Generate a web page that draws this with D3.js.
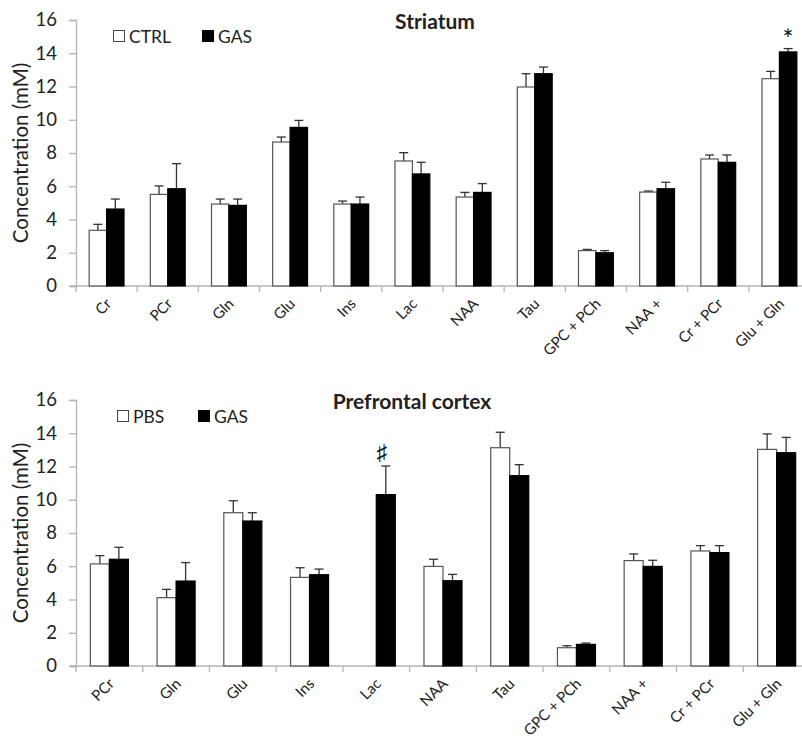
<!DOCTYPE html>
<html>
<head>
<meta charset="utf-8">
<script src="https://cdn.jsdelivr.net/npm/d3@7"></script>
<style>
  html, body { margin: 0; padding: 0; background: #fff; }
  svg { display: block; overflow: hidden; }
  text { font-family: Lato, "Open Sans", sans-serif; fill: #222; }
</style>
</head>
<body>
<svg id="chart" width="802" height="741"></svg>
<script>
// Striatum panel
const striatumCategories = ["Cr", "PCr", "Gln", "Glu", "Ins", "Lac", "NAA", "Tau", "GPC + PCh", "NAA +", "Cr + PCr", "Glu + Gln"];
const striatumCtrl    = [3.35, 5.51, 4.93, 8.66, 4.93, 7.52, 5.35, 11.97, 2.13, 5.65, 7.64, 12.47];
const striatumCtrlErr = [0.36, 0.51, 0.30, 0.30, 0.18, 0.50, 0.28, 0.80, 0.07, 0.06, 0.24, 0.44];
const striatumGas     = [4.63, 5.85, 4.85, 9.54, 4.93, 6.74, 5.63, 12.77, 2.00, 5.85, 7.44, 14.08];
const striatumGasErr  = [0.60, 1.51, 0.38, 0.42, 0.42, 0.70, 0.53, 0.40, 0.13, 0.39, 0.44, 0.20];

// Prefrontal cortex panel (no PBS value for Lac)
const cortexCategories = ["PCr", "Gln", "Glu", "Ins", "Lac", "NAA", "Tau", "GPC + PCh", "NAA +", "Cr + PCr", "Glu + Gln"];
const cortexPbs     = [6.14, 4.11, 9.22, 5.33, null, 5.99, 13.13, 1.10, 6.34, 6.92, 13.03];
const cortexPbsErr  = [0.50, 0.50, 0.72, 0.58, null, 0.43, 0.93, 0.12, 0.40, 0.32, 0.93];
const cortexGas     = [6.42, 5.11, 8.72, 5.49, 10.31, 5.13, 11.45, 1.30, 5.99, 6.82, 12.83];
const cortexGasErr  = [0.72, 1.11, 0.50, 0.34, 1.72, 0.38, 0.66, 0.08, 0.37, 0.42, 0.92];

const yTicks = [0, 2, 4, 6, 8, 10, 12, 14, 16];

const svg = d3.select("#chart");

function drawPanel(opts) {
  const g = svg.append("g");
  const x = d3.scaleBand().domain(opts.categories).range([76, 810]);
  const y = d3.scaleLinear().domain([0, 16]).range([opts.bottom, opts.bottom - 266]);
  const bw = x.bandwidth() * 0.285;

  // y axis
  const yAxis = g.append("g").attr("transform", "translate(76,0)")
    .call(d3.axisLeft(y).tickValues(yTicks).tickSize(7).tickPadding(12));
  yAxis.select(".domain").attr("stroke", "#b5b5b5").attr("stroke-width", 1.3);
  yAxis.selectAll(".tick line").attr("stroke", "#b5b5b5").attr("stroke-width", 1.3);
  yAxis.selectAll(".tick text").style("font-size", "18.5px").attr("fill", "#222");

  // x axis with boundary ticks
  const xAxis = g.append("g").attr("transform", `translate(0,${opts.bottom})`);
  xAxis.append("line").attr("x1", 70).attr("x2", 810).attr("stroke", "#b5b5b5").attr("stroke-width", 1.3);
  const bounds = opts.categories.map(c => x(c)).concat([810]);
  xAxis.selectAll("line.tk").data(bounds).join("line")
    .attr("class", "tk")
    .attr("x1", d => d).attr("x2", d => d).attr("y1", 0).attr("y2", 6)
    .attr("stroke", "#b5b5b5").attr("stroke-width", 1.3);
  // category labels slanted at 45 degrees, right end under the group centre
  xAxis.selectAll("text.lbl").data(opts.categories).join("text")
    .attr("class", "lbl")
    .attr("transform", d => `translate(${x(d) + x.bandwidth() / 2 + 2},15) rotate(-45)`)
    .attr("text-anchor", "end")
    .attr("dy", "0.35em")
    .style("font-size", "15px")
    .text(d => d);

  // y title
  g.append("text")
    .attr("transform", `translate(28,${opts.bottom - 133}) rotate(-90)`)
    .attr("text-anchor", "middle")
    .style("font-size", "20.5px")
    .text("Concentration (mM)");

  // bars
  const series = [
    { vals: opts.a, errs: opts.aErr, fill: "#fff", stroke: "#555", off: -bw },
    { vals: opts.b, errs: opts.bErr, fill: "#000", stroke: "#000", off: 0 }
  ];
  series.forEach(s => {
    const rows = opts.categories.map((c, i) => ({ c, v: s.vals[i], e: s.errs[i] })).filter(r => r.v != null);
    const cx = r => x(r.c) + x.bandwidth() / 2 + s.off;
    // error bars (upper only)
    g.selectAll(null).data(rows).join("line")
      .attr("x1", r => cx(r) + bw / 2).attr("x2", r => cx(r) + bw / 2)
      .attr("y1", r => y(r.v)).attr("y2", r => y(r.v + r.e))
      .attr("stroke", "#333").attr("stroke-width", 1.3);
    g.selectAll(null).data(rows).join("line")
      .attr("x1", r => cx(r) + bw / 2 - 4.5).attr("x2", r => cx(r) + bw / 2 + 4.5)
      .attr("y1", r => y(r.v + r.e)).attr("y2", r => y(r.v + r.e))
      .attr("stroke", "#333").attr("stroke-width", 1.3);
    g.selectAll(null).data(rows).join("rect")
      .attr("x", r => cx(r)).attr("width", bw)
      .attr("y", r => y(r.v)).attr("height", r => opts.bottom - y(r.v))
      .attr("fill", s.fill).attr("stroke", s.stroke).attr("stroke-width", 1.2);
  });

  // legend
  const lg = g.append("g").attr("transform", `translate(${opts.legendX},${opts.bottom - 256})`);
  lg.append("rect").attr("x", 0.5).attr("y", 0.5).attr("width", 11).attr("height", 11)
    .attr("fill", "#fff").attr("stroke", "#444").attr("stroke-width", 1);
  lg.append("text").attr("x", 16).attr("y", 12.5).style("font-size", "17.5px").text(opts.aName);
  lg.append("rect").attr("x", opts.legendGap).attr("y", 0).attr("width", 12).attr("height", 12).attr("fill", "#000");
  lg.append("text").attr("x", opts.legendGap + 16).attr("y", 12.5).style("font-size", "17.5px").text(opts.bName);

  // title
  g.append("text")
    .attr("x", opts.titleX).attr("y", opts.bottom - 257)
    .attr("text-anchor", "middle")
    .style("font-size", "21px").style("font-weight", "bold")
    .text(opts.title);

  // significance mark
  const mi = opts.categories.indexOf(opts.markCat);
  const mv = opts.b[mi] + opts.bErr[mi];
  g.append("text")
    .attr("x", x(opts.markCat) + x.bandwidth() / 2 + bw / 2 + opts.markDx)
    .attr("y", y(mv) - opts.markDy)
    .attr("text-anchor", "middle")
    .style("font-size", opts.markSize)
    .style("fill", "#111")
    .text(opts.mark);

  return { x, y };
}

drawPanel({
  categories: striatumCategories, a: striatumCtrl, aErr: striatumCtrlErr,
  b: striatumGas, bErr: striatumGasErr, bottom: 286,
  aName: "CTRL", bName: "GAS", legendX: 113, legendGap: 89,
  title: "Striatum", titleX: 435,
  mark: "*", markCat: "Glu + Gln", markDx: 0, markDy: 0, markSize: "26px"
});

drawPanel({
  categories: cortexCategories, a: cortexPbs, aErr: cortexPbsErr,
  b: cortexGas, bErr: cortexGasErr, bottom: 666,
  aName: "PBS", bName: "GAS", legendX: 117, legendGap: 81,
  title: "Prefrontal cortex", titleX: 412,
  mark: "\u266F", markCat: "Lac", markDx: -4, markDy: 6, markSize: "22px"
});
</script>
</body>
</html>
